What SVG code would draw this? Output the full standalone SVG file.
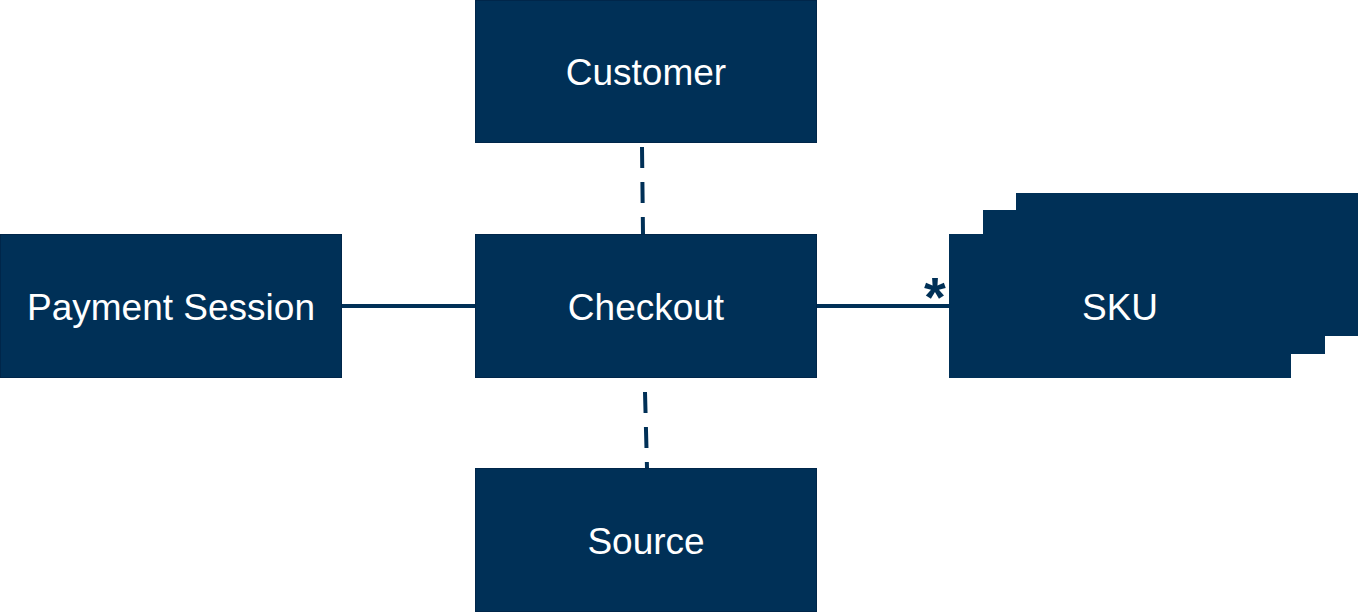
<svg xmlns="http://www.w3.org/2000/svg" width="1358" height="612" viewBox="0 0 1358 612">
<style>
.box{fill:#003057;stroke:#00264a;stroke-width:1}
.stack{fill:#003057;stroke:none}
.lbl{fill:#ffffff;font-family:"Liberation Sans",Arial,sans-serif;font-size:37px;text-anchor:middle}
.conn{stroke:#003057;stroke-width:4;fill:none}
.dash{stroke-dasharray:21 14}
.mult{fill:#003057;font-family:"Liberation Sans",Arial,sans-serif;font-weight:bold;font-size:56px;text-anchor:middle}
</style>
<rect width="1358" height="612" fill="#ffffff"/>
<g id="connectors">
<line class="conn" x1="342" y1="306" x2="475" y2="306"/>
<line class="conn" x1="817" y1="306" x2="949" y2="306"/>
<line class="conn dash" x1="642" y1="147" x2="643" y2="234"/>
<line class="conn dash" x1="645" y1="392" x2="647" y2="468"/>
<text class="mult" x="935" y="316">*</text>
</g>
<g id="customer">
<rect class="box" x="475.5" y="0.5" width="341" height="142"/>
<text class="lbl" x="646" y="85">Customer</text>
</g>
<g id="checkout">
<rect class="box" x="475.5" y="234.5" width="341" height="143"/>
<text class="lbl" x="646" y="320">Checkout</text>
</g>
<g id="payment-session">
<rect class="box" x="0.5" y="234.5" width="341" height="143"/>
<text class="lbl" x="171" y="320">Payment Session</text>
</g>
<g id="source">
<rect class="box" x="475.5" y="468.5" width="341" height="143"/>
<text class="lbl" x="646" y="554">Source</text>
</g>
<g id="sku">
<rect class="stack" x="1016" y="193" width="342" height="143"/>
<rect class="stack" x="983" y="210" width="342" height="144"/>
<rect class="stack" x="949" y="234" width="342" height="144"/>
<text class="lbl" x="1120" y="320">SKU</text>
</g>
</svg>
